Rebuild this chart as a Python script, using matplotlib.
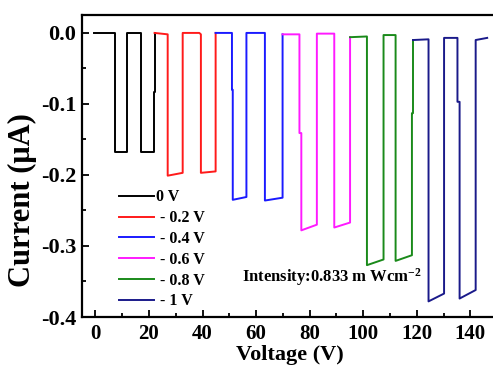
import matplotlib
matplotlib.use('Agg')
import matplotlib.pyplot as plt
from matplotlib.ticker import MultipleLocator

# 各偏压下的光响应 (step 曲线顶点, 从图上读取)
x_0v = [-0.5, 7.2, 7.2, 11.8, 11.8, 17.0, 17.0, 21.8, 21.8, 22.1, 22.1]
y_0v = [0.0, 0.0, -0.168, -0.168, 0.0, 0.0, -0.168, -0.168, -0.083, -0.083, 0.0]

x_02v = [22.1, 27.0, 27.0, 32.6, 32.6, 38.8, 39.4, 39.4, 44.9, 44.9]
y_02v = [0.0, -0.002, -0.201, -0.197, 0.0, 0.0, -0.002, -0.197, -0.195, 0.0]

x_04v = [44.9, 51.0, 51.0, 51.3, 51.3, 56.4, 56.4, 63.3, 63.3, 69.9, 69.9]
y_04v = [0.0, 0.0, -0.080, -0.080, -0.235, -0.231, 0.0, 0.0, -0.236, -0.232, -0.002]

x_06v = [69.9, 76.2, 76.2, 76.9, 76.9, 82.7, 82.7, 89.2, 89.2, 95.1, 95.1]
y_06v = [-0.002, -0.002, -0.141, -0.141, -0.278, -0.270, -0.001, -0.001, -0.274, -0.267, -0.006]

x_08v = [95.1, 101.4, 101.4, 107.6, 107.6, 112.1, 112.1, 118.2, 118.2, 118.6, 118.6]
y_08v = [-0.006, -0.005, -0.327, -0.319, -0.003, -0.003, -0.321, -0.313, -0.113, -0.113, -0.010]

x_1v = [118.6, 124.4, 124.4, 130.2, 130.2, 135.2, 135.2, 136.0, 136.0, 142.0, 142.0, 146.3]
y_1v = [-0.010, -0.009, -0.378, -0.367, -0.007, -0.007, -0.097, -0.097, -0.374, -0.362, -0.010, -0.007]

series = [
    (x_0v, y_0v, '0 V', 'black'),
    (x_02v, y_02v, ' - 0.2 V', '#ff1a1a'),
    (x_04v, y_04v, ' - 0.4 V', '#1a1aff'),
    (x_06v, y_06v, ' - 0.6 V', '#ff1aff'),
    (x_08v, y_08v, ' - 0.8 V', '#1a8a1a'),
    (x_1v, y_1v, ' - 1 V', '#1a1a8a'),
]

plt.rcParams['font.family'] = ['Liberation Serif', 'DejaVu Serif']
plt.rcParams['font.weight'] = 'bold'
plt.rcParams['mathtext.fontset'] = 'custom'
plt.rcParams['mathtext.rm'] = 'Liberation Serif:bold'
plt.rcParams['mathtext.default'] = 'rm'
plt.rcParams['axes.unicode_minus'] = False

fig = plt.figure(figsize=(4.93, 3.69), dpi=100)
ax = fig.add_axes([0.1663, 0.1409, 0.842, 0.818])

for xs, ys, lab, c in series:
    ax.plot(xs, ys, color=c, lw=1.4, label=lab)

ax.set_xlim(-5, 150)
ax.set_ylim(-0.4, 0.025)
ax.xaxis.set_major_locator(MultipleLocator(20))
ax.xaxis.set_minor_locator(MultipleLocator(10))
ax.yaxis.set_major_locator(MultipleLocator(0.1))
ax.yaxis.set_minor_locator(MultipleLocator(0.05))
ax.yaxis.set_major_formatter(lambda v, p: f'{v:.1f}' if abs(v) > 1e-9 else '0.0')
ax.tick_params(which='both', direction='in', top=False, right=False, width=1.3)
ax.tick_params(which='major', length=5, pad=5)
ax.tick_params(axis='x', which='major', labelsize=15)
ax.tick_params(axis='y', which='major', labelsize=16, pad=4)
ax.tick_params(which='minor', length=3)
for s in ax.spines.values():
    s.set_linewidth(1.6)

ax.set_xlabel('Voltage (V)', fontsize=16, fontweight='bold', labelpad=1)
ax.set_ylabel('Current (μA)', fontsize=22, fontweight='bold')
ax.yaxis.set_label_coords(-0.108, 0.387)

ax.legend(loc='upper left', bbox_to_anchor=(0.063, 0.46), frameon=False,
          fontsize=11.5, handlelength=2.2, handletextpad=0.1,
          labelspacing=0.3, borderpad=0.2)

ax.text(88.4, -0.344, 'Intensity:0.833 m Wcm$^{-2}$', fontsize=12,
        fontweight='bold', ha='center', va='center')

fig.savefig('out.png', dpi=100)
